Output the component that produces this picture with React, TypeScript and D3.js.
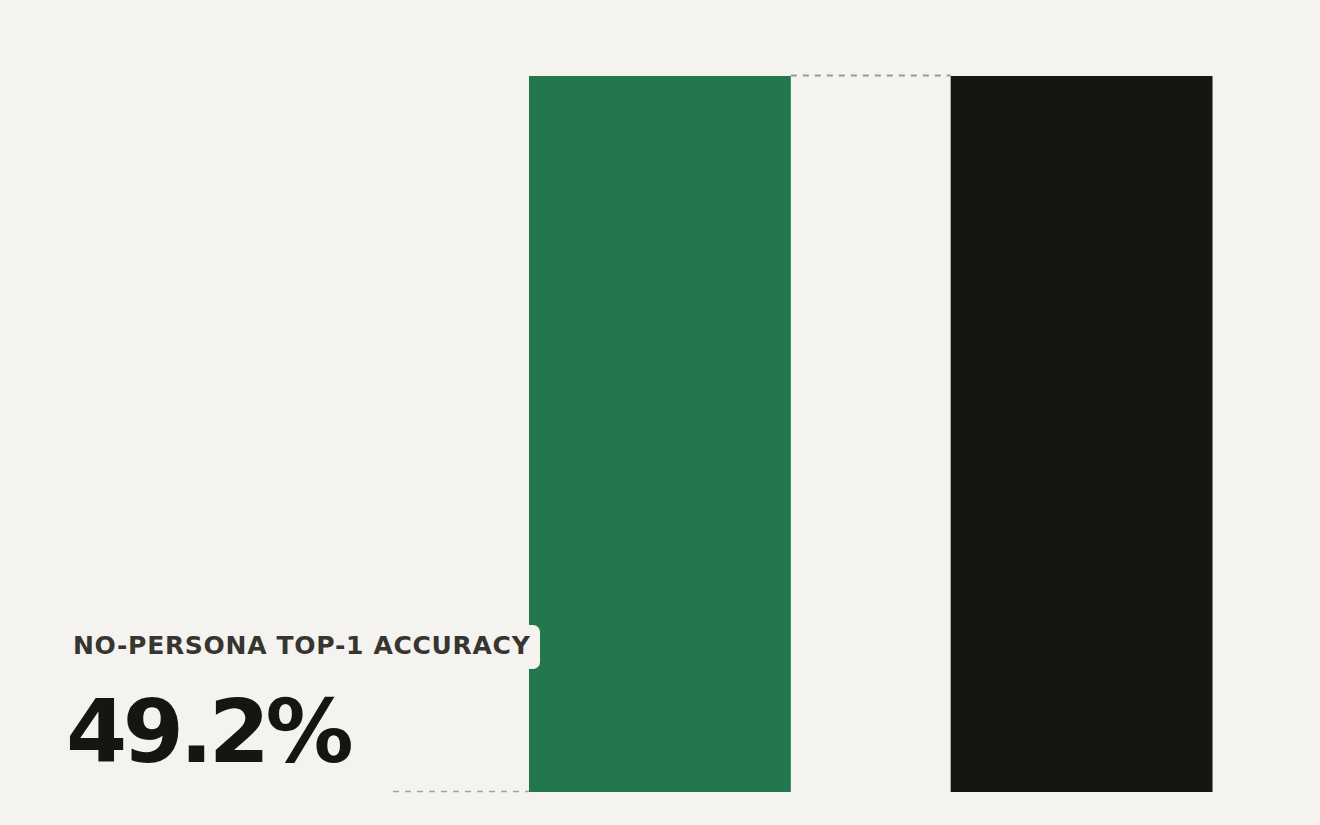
import * as d3 from "d3";

const categories = ["No persona", "Persona"];
const values = [49.2, 49.2];
const barColors = ["#22784c", "#161511"];
const metricLabel = "NO-PERSONA TOP-1 ACCURACY";
const metricValue = "49.2%";

const W = 1320;
const H = 825;

const App = () => {
  const x = d3.scaleBand().domain(categories).range([529, 1212.5]).paddingInner(0.3791);
  const y = d3.scaleLinear().domain([0, d3.max(values) as number]).range([792, 76]);
  const bw = x.bandwidth();
  const x0 = x(categories[0]) as number;
  const x1 = x(categories[1]) as number;

  return (
    <svg
      width={W}
      height={H}
      style={{ position: "fixed", left: 0, top: 0, background: "#f4f3ef" }}
    >
      <rect width={W} height={H} fill="#f4f3ef" />
      {categories.map((c, i) => (
        <rect
          key={c}
          x={x(c)}
          y={y(values[i])}
          width={bw}
          height={y(0) - y(values[i])}
          fill={barColors[i]}
        />
      ))}
      {/* connector between bar tops */}
      <line
        x1={x0 + bw}
        x2={x1}
        y1={y(values[0]) - 0.5}
        y2={y(values[1]) - 0.5}
        stroke="#9c9a92"
        strokeWidth={2}
        strokeDasharray="6 6"
      />
      {/* baseline stub */}
      <line
        x1={393}
        x2={x0}
        y1={y(0) - 0.5}
        y2={y(0) - 0.5}
        stroke="#a3a199"
        strokeWidth={1.5}
        strokeDasharray="6 6"
      />
      <rect x={62} y={625} width={478} height={44} rx={7} fill="#f4f3ef" />
      <text
        x={73}
        y={654}
        fontFamily="DejaVu Sans"
        fontWeight="bold"
        fontSize={25}
        letterSpacing={0.7}
        fill="#37352f"
      >
        {metricLabel}
      </text>
      <text
        x={66}
        y={762}
        fontFamily="DejaVu Sans"
        fontWeight="bold"
        fontSize={88}
        letterSpacing={-4.4}
        fill="#161511"
      >
        {metricValue}
      </text>
    </svg>
  );
};

export default App;
